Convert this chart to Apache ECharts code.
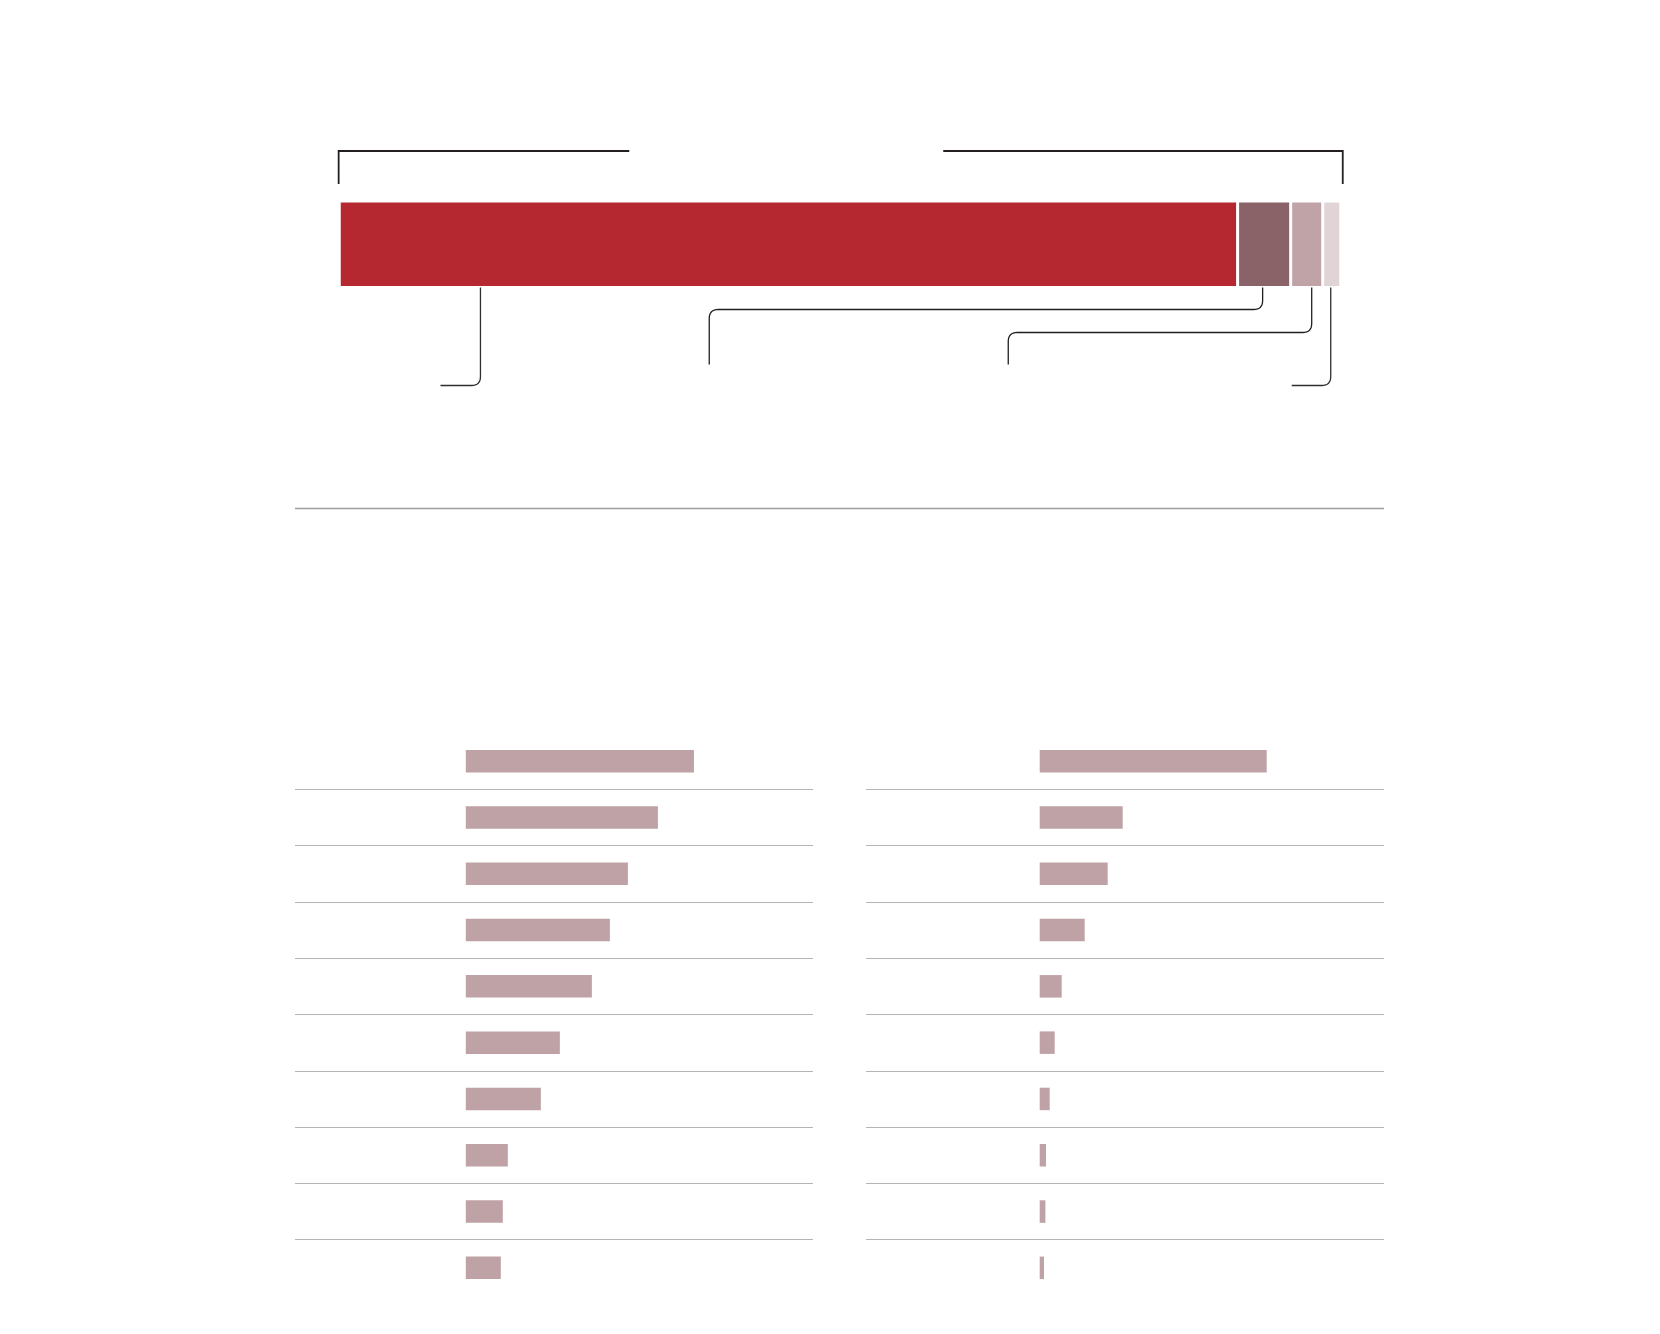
<!DOCTYPE html>
<html>
<head>
<meta charset="utf-8">
<script src="https://cdn.jsdelivr.net/npm/echarts@6/dist/echarts.min.js"></script>
<style>
html,body{margin:0;padding:0;background:#ffffff;}
#chart{width:1660px;height:1334px;}
</style>
</head>
<body>
<div id="chart"></div>
<script>
// ---------- data ----------
const shareNames = ['Segment 1', 'Segment 2', 'Segment 3', 'Segment 4'];
const shareValues = [89.7, 5.3, 3.2, 1.8];

const leftCategories = ['1', '2', '3', '4', '5', '6', '7', '8', '9', '10'];
const leftValues = [22.8, 19.2, 16.2, 14.4, 12.6, 9.4, 7.5, 4.2, 3.7, 3.5];

const rightCategories = ['1', '2', '3', '4', '5', '6', '7', '8', '9', '10'];
const rightValues = [22.7, 8.3, 6.8, 4.5, 2.2, 1.5, 1.0, 0.63, 0.57, 0.43];

// annotation anchor positions on the share axis (0-100)
const leaderAnchors = [14.1, 92.2, 97.1, 99.0];

// ---------- styles ----------
const shareColors = ['#B52830', '#8A6368', '#BFA3A6', '#E0D4D6'];
const rowBarColor = '#BFA2A5';
const sepColor = '#B4B4B4';
const inkColor = '#231F20';
const BAR_H = 86.5;

const sepColors = [];
for (let i = 0; i <= leftCategories.length; i++) {
  sepColors.push(i === 0 || i === leftCategories.length ? 'rgba(0,0,0,0)' : sepColor);
}

const chart = echarts.init(document.getElementById('chart'), null, {renderer: 'canvas'});

const rowAxis = (gridIndex, cats) => ({
  gridIndex, type: 'category', data: cats, inverse: true,
  axisLine: {show: false}, axisTick: {show: false}, axisLabel: {show: false},
  splitLine: {show: true, lineStyle: {color: sepColors, width: 1}}
});

const option = {
  animation: false,
  backgroundColor: '#ffffff',
  grid: [
    {left: 339.25, top: 201, width: 1001.5, height: BAR_H},
    {left: 295, top: 733, width: 518, height: 563},
    {left: 866, top: 733, width: 518, height: 563}
  ],
  xAxis: [
    {gridIndex: 0, type: 'value', min: 0, max: 100, show: false},
    {gridIndex: 1, type: 'value', min: -17.07, max: 34.7, show: false},
    {gridIndex: 2, type: 'value', min: -17.37, max: 34.43, show: false}
  ],
  yAxis: [
    {gridIndex: 0, type: 'category', data: ['share'], show: false},
    rowAxis(1, leftCategories),
    rowAxis(2, rightCategories)
  ],
  series: [
    ...shareNames.map((name, i) => ({
      name, type: 'bar', stack: 'total', xAxisIndex: 0, yAxisIndex: 0,
      barWidth: '100%', silent: true,
      data: [shareValues[i]],
      itemStyle: {color: shareColors[i], borderColor: '#ffffff', borderWidth: 1.5}
    })),
    {
      type: 'bar', xAxisIndex: 1, yAxisIndex: 1, barWidth: 22.5, silent: true,
      data: leftValues, itemStyle: {color: rowBarColor}
    },
    {
      type: 'bar', xAxisIndex: 2, yAxisIndex: 2, barWidth: 22.5, silent: true,
      data: rightValues, itemStyle: {color: rowBarColor}
    }
  ]
};
chart.setOption(option);

// ---------- annotations (brackets, leader lines, rule) ----------
function rounded(pts, r) {
  const out = [pts[0]];
  for (let i = 1; i < pts.length - 1; i++) {
    const [px, py] = pts[i - 1], [cx, cy] = pts[i], [nx, ny] = pts[i + 1];
    const d1 = Math.hypot(cx - px, cy - py), d2 = Math.hypot(nx - cx, ny - cy);
    const rr = Math.min(r, d1 / 2, d2 / 2);
    const ax = cx + (px - cx) / d1 * rr, ay = cy + (py - cy) / d1 * rr;
    const bx = cx + (nx - cx) / d2 * rr, by = cy + (ny - cy) / d2 * rr;
    for (let k = 0; k <= 8; k++) {
      const t = k / 8, u = 1 - t;
      out.push([u * u * ax + 2 * u * t * cx + t * t * bx, u * u * ay + 2 * u * t * cy + t * t * by]);
    }
  }
  out.push(pts[pts.length - 1]);
  return out;
}

const x0 = chart.convertToPixel({xAxisIndex: 0}, 0);
const x100 = chart.convertToPixel({xAxisIndex: 0}, 100);
const yc = chart.convertToPixel({yAxisIndex: 0}, 'share');
const barTop = yc - BAR_H / 2, barBottom = yc + BAR_H / 2;
const ax = leaderAnchors.map(v => chart.convertToPixel({xAxisIndex: 0}, v));

const ruleLeft = chart.convertToPixel({xAxisIndex: 1}, -17.07);
const ruleRight = chart.convertToPixel({xAxisIndex: 2}, 34.43);

const line = (points, width, color) => ({
  type: 'polyline', silent: true,
  shape: {points},
  style: {stroke: color, lineWidth: width, fill: null}
});

const graphics = [
  // bracket left part
  line([[x0 - 0.6, barTop - 17], [x0 - 0.6, barTop - 50], [x0 + 290, barTop - 50]], 1.8, inkColor),
  // bracket right part
  line([[x0 + 604, barTop - 50], [x100 + 2, barTop - 50], [x100 + 2, barTop - 17]], 1.8, inkColor),
  // leader lines
  line(rounded([[ax[0], barBottom - 6], [ax[0], barBottom + 98], [ax[0] - 40, barBottom + 98]], 9), 1.3, '#2e2e2e'),
  line(rounded([[ax[1], barBottom - 6], [ax[1], barBottom + 22], [x0 + 370, barBottom + 22], [x0 + 370, barBottom + 77]], 9), 1.3, inkColor),
  line(rounded([[ax[2], barBottom - 6], [ax[2], barBottom + 45], [x0 + 669, barBottom + 45], [x0 + 669, barBottom + 77]], 9), 1.3, inkColor),
  line(rounded([[ax[3], barBottom - 6], [ax[3], barBottom + 98], [ax[3] - 39, barBottom + 98]], 9), 1.3, '#2e2e2e'),
  // horizontal rule
  line([[ruleLeft, barBottom + 221], [ruleRight, barBottom + 221]], 1.5, '#9E9E9E')
];

chart.setOption({graphic: graphics});
</script>
</body>
</html>
